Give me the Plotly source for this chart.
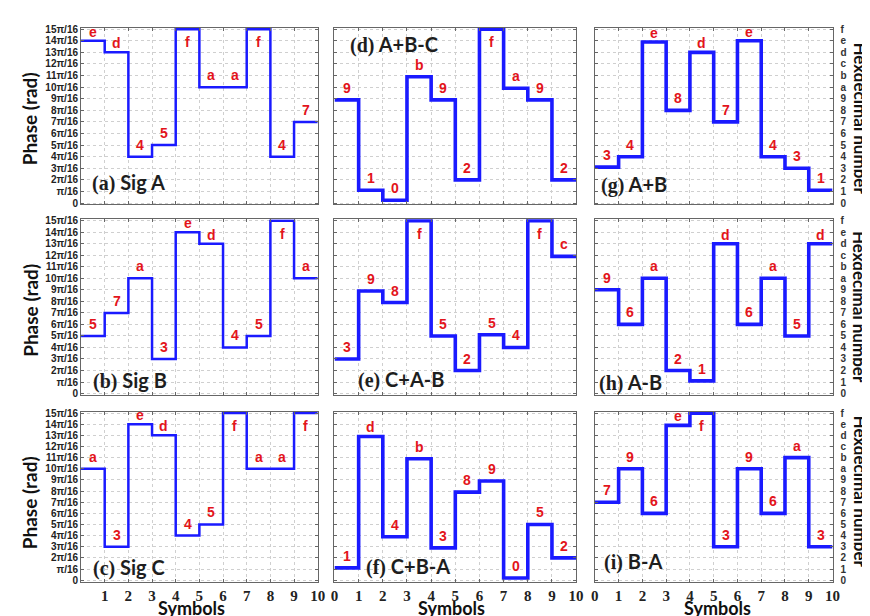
import plotly.graph_objects as go

# ---------------- data (levels, 0..15 scale) ----------------
symbols = list(range(11))

sig_a = [14, 13, 4, 5, 15, 10, 10, 15, 4, 7]
sig_a_lab = ['e', 'd', '4', '5', 'f', 'a', 'a', 'f', '4', '7']

sig_b = [5, 7, 10, 3, 14, 13, 4, 5, 15, 10]
sig_b_lab = ['5', '7', 'a', '3', 'e', 'd', '4', '5', 'f', 'a']

sig_c = [10, 3, 14, 13, 4, 5, 15, 10, 10, 15]
sig_c_lab = ['a', '3', 'e', 'd', '4', '5', 'f', 'a', 'a', 'f']

a_b_c = [8.9, 1.1, 0.25, 10.9, 8.9, 2.0, 15, 9.9, 8.9, 2.0]
a_b_c_lab = ['9', '1', '0', 'b', '9', '2', 'f', 'a', '9', '2']

c_a_b = [3.0, 8.9, 7.9, 15, 5.0, 2.0, 5.1, 4.0, 15, 11.9]
c_a_b_lab = ['3', '9', '8', 'f', '5', '2', '5', '4', 'f', 'c']

c_b_a = [1.1, 12.9, 3.9, 10.9, 2.9, 7.9, 8.9, 0.2, 5.0, 2.0]
c_b_a_lab = ['1', 'd', '4', 'b', '3', '8', '9', '0', '5', '2']

a_plus_b = [3.1, 4.0, 13.9, 8.0, 13.0, 7.0, 14.0, 4.0, 3.0, 1.1]
a_plus_b_lab = ['3', '4', 'e', '8', 'd', '7', 'e', '4', '3', '1']

a_minus_b = [9.0, 6.0, 10.0, 2.0, 1.1, 13.0, 6.0, 10.0, 5.0, 13.0]
a_minus_b_lab = ['9', '6', 'a', '2', '1', 'd', '6', 'a', '5', 'd']

b_minus_a = [7.0, 10.0, 6.0, 13.9, 15, 3.0, 10.0, 6.0, 11.0, 3.0]
b_minus_a_lab = ['7', '9', '6', 'e', 'f', '3', '9', '6', 'a', '3']

phase_ticks = ['0', 'π/16'] + [f'{k}π/16' for k in range(2, 16)]
hex_ticks = list('0123456789abcdef')

panel_titles = ['(a)', '(b)', '(c)', '(d)', '(e)', '(f)', '(g)', '(h)', '(i)']
panel_names = ['Sig A', 'Sig B', 'Sig C', 'A+B-C', 'C+A-B', 'C+B-A', 'A+B', 'A-B', 'B-A']
series = [sig_a, sig_b, sig_c, a_b_c, c_a_b, c_b_a, a_plus_b, a_minus_b, b_minus_a]
labels = [sig_a_lab, sig_b_lab, sig_c_lab, a_b_c_lab, c_a_b_lab, c_b_a_lab,
          a_plus_b_lab, a_minus_b_lab, b_minus_a_lab]

# ---------------- layout geometry ----------------
W, H = 870, 616
col_px = [(70, 310), (327, 572), (591, 832)]
row_px = [(16, 195), (210, 388), (405, 577)]
title_pos = [(79, 173), (80, 373), (80, 563),
             (341, 33), (349, 372), (357, 562),
             (595, 175), (593, 375), (598, 557)]

BLUE = '#1a1aff'
RED = '#e3141b'
fig = go.Figure()
layout = dict(width=W, height=H, margin=dict(l=0, r=0, t=0, b=0),
              plot_bgcolor='white', paper_bgcolor='white', showlegend=False)
annotations = []

for p in range(9):
    c, r = p // 3, p % 3
    ax = '' if p == 0 else str(p + 1)
    xname, yname = 'xaxis' + ax, 'yaxis' + ax
    xd = [col_px[c][0] / W, col_px[c][1] / W]
    yd = [1 - row_px[r][1] / H, 1 - row_px[r][0] / H]
    vals = series[p]
    fig.add_trace(go.Scatter(
        x=symbols, y=vals + [vals[-1]], mode='lines', line_shape='hv',
        line=dict(color=BLUE, width=2.5 if c == 0 else 3.6),
        xaxis='x' + ax, yaxis='y' + ax, hoverinfo='skip'))
    bottom = (r == 2)
    xt = list(range(1, 11)) if (bottom and c == 0) else list(range(11))
    layout[xname] = dict(
        domain=xd, anchor='y' + ax, range=[0, 10],
        tickvals=list(range(11)) if not bottom else xt,
        ticktext=[str(v) for v in (list(range(11)) if not bottom else xt)],
        showticklabels=bottom, ticks='inside', ticklen=3, tickcolor='#666',
        showgrid=True, gridcolor='#cfcfcf', griddash='dot', gridwidth=1,
        showline=True, mirror='ticks', linecolor='#666', linewidth=1,
        zeroline=False,
        tickfont=dict(family='Liberation Serif', size=15, color='#222', weight='bold'))
    ydict = dict(
        domain=yd, anchor='x' + ax, range=[-0.12, 15.12],
        tickvals=list(range(16)), ticks='inside', ticklen=3, tickcolor='#666',
        showgrid=True, gridcolor='#cfcfcf', griddash='dot', gridwidth=1,
        showline=True, mirror='ticks', linecolor='#666', linewidth=1,
        zeroline=False)
    if c == 0:
        ydict.update(ticktext=phase_ticks, showticklabels=True,
                     tickfont=dict(family='Liberation Sans', size=10, color='#222', weight='bold'))
    elif c == 1:
        ydict.update(showticklabels=False)
    else:
        ydict.update(ticktext=hex_ticks, showticklabels=True, side='right',
                     ticklabelstandoff=5,
                     tickfont=dict(family='Liberation Sans', size=10, color='#333', weight='bold'))
    layout[yname] = ydict

    # value labels
    for i, (v, lab) in enumerate(zip(vals, labels[p])):
        if v >= 14.5:
            ys = -13
        elif v >= 12.5:
            ys = 9
        else:
            ys = 12
        annotations.append(dict(
            x=i + 0.5, y=v, xref='x' + ax, yref='y' + ax, text=lab, showarrow=False,
            xanchor='center', yanchor='middle',
            yshift=ys, font=dict(family='Liberation Sans', size=14, color=RED, weight='bold')))

    # panel title
    tx, ty = title_pos[p]
    annotations.append(dict(
        x=tx / W, y=1 - ty / H, xref='paper', yref='paper', xanchor='left', yanchor='middle',
        text=f'<span style="font-family:Liberation Serif">{panel_titles[p]}</span> {panel_names[p]}',
        showarrow=False, font=dict(family='Lato', size=20, color='#1e1e1e', weight='bold')))

# axis titles
for yc in (108, 302, 497):
    annotations.append(dict(x=18 / W, y=1 - yc / H, xref='paper', yref='paper', text='Phase (rad)',
                            textangle=-90, showarrow=False, xanchor='center', yanchor='middle',
                            font=dict(family='Lato', size=19, color='#111', weight='bold')))
for yc in (108, 299, 486):
    annotations.append(dict(x=860 / W, y=1 - yc / H, xref='paper', yref='paper',
                            text='Hexdecimal number', textangle=90, showarrow=False,
                            xanchor='center', yanchor='middle',
                            font=dict(family='Lato', size=17, color='#111', weight='bold')))
for xc in (182, 446, 715):
    annotations.append(dict(x=xc / W, y=1 - 604 / H, xref='paper', yref='paper', text='Symbols',
                            showarrow=False, xanchor='center', yanchor='middle',
                            font=dict(family='Lato', size=18, color='#111', weight='bold')))

layout['annotations'] = annotations
fig.update_layout(**layout)
fig.write_html('out.html')
